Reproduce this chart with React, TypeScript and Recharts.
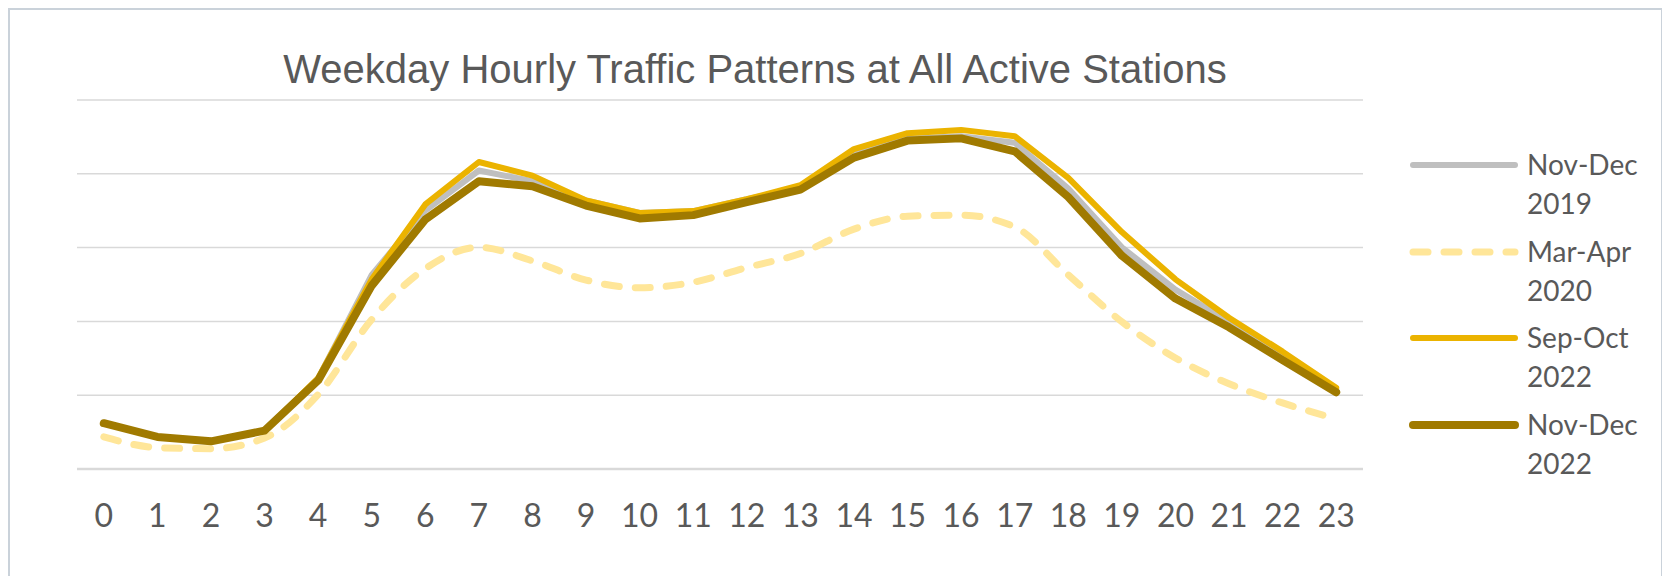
import React from "react";
import { LineChart, Line, XAxis, YAxis, CartesianGrid } from "recharts";

// hours of the weekday
const hours = [
  "0", "1", "2", "3", "4", "5", "6", "7", "8", "9", "10", "11",
  "12", "13", "14", "15", "16", "17", "18", "19", "20", "21", "22", "23",
];

// avg trips per hour (no axis labels in the original)
const novDec2019 = [
  124, 87, 75, 104, 245, 526, 700, 809, 780, 728, 694, 699,
  731, 763, 853, 896, 902, 884, 760, 601, 486, 399, 306, 214,
];
const marApr2020 = [
  87, 58, 55, 84, 202, 405, 543, 601, 564, 512, 491, 506,
  546, 584, 650, 685, 688, 656, 526, 399, 301, 231, 179, 136,
];
const sepOct2022 = [
  124, 87, 75, 104, 246, 514, 717, 832, 795, 728, 694, 699,
  731, 769, 867, 910, 919, 902, 789, 642, 514, 410, 318, 220,
];
const novDec2022 = [
  124, 87, 75, 104, 240, 497, 676, 780, 766, 714, 679, 688,
  723, 757, 844, 890, 896, 861, 737, 578, 462, 384, 295, 208,
];

const yTicks = [0, 200, 400, 600, 800, 1000];

const series = [
  { key: "nd19", name: "Nov-Dec 2019", color: "#BFBFBF", width: 6, dash: undefined, curve: "linear" },
  { key: "ma20", name: "Mar-Apr 2020", color: "#FFE699", width: 7, dash: "15 16", curve: "monotone" },
  { key: "so22", name: "Sep-Oct 2022", color: "#EBB300", width: 6, dash: undefined, curve: "linear" },
  { key: "nd22", name: "Nov-Dec 2022", color: "#A07A00", width: 8, dash: undefined, curve: "linear" },
];

const data = hours.map((h, i) => ({
  hour: h,
  nd19: novDec2019[i],
  ma20: marApr2020[i],
  so22: sepOct2022[i],
  nd22: novDec2022[i],
}));

const textColor = "#595959";

export default function App() {
  return (
    <div
      style={{
        position: "relative",
        width: 1655,
        height: 575,
        border: "2px solid #CAD2DA",
        boxSizing: "border-box",
        background: "#fff",
      }}
    >
      <div
        style={{
          position: "absolute",
          left: 0,
          top: 39,
          width: 1490,
          textAlign: "center",
          fontFamily: "'Liberation Sans', Arial, sans-serif",
          fontSize: 40,
          lineHeight: "40px",
          color: textColor,
        }}
      >
        Weekday Hourly Traffic Patterns at All Active Stations
      </div>

      <LineChart
        width={1651}
        height={571}
        data={data}
        margin={{ top: 90, right: 298, bottom: 32, left: 67 }}
      >
        <CartesianGrid vertical={false} stroke="#D9D9D9" strokeWidth={1.5} />
        <XAxis
          dataKey="hour"
          height={80}
          padding={{ left: 26.8, right: 26.8 }}
          axisLine={{ stroke: "#D9D9D9", strokeWidth: 2.5 }}
          tickLine={false}
          tickSize={0}
          tickMargin={35}
          interval={0}
          tick={{ fill: textColor, fontSize: 32, fontFamily: "Lato, sans-serif" }}
        />
        <YAxis hide domain={[0, 1000]} ticks={yTicks} />
        {series.map((s) => (
          <Line
            key={s.key}
            dataKey={s.key}
            name={s.name}
            type={s.curve as any}
            stroke={s.color}
            strokeWidth={s.width}
            strokeDasharray={s.dash}
            strokeLinecap="round"
            strokeLinejoin="round"
            dot={false}
            activeDot={false}
            isAnimationActive={false}
          />
        ))}
      </LineChart>

      {series.map((s, i) => (
        <div
          key={s.key}
          style={{
            position: "absolute",
            left: 1398,
            top: 135 + i * 86.7,
            display: "flex",
            alignItems: "flex-start",
          }}
        >
          <svg width={112} height={40} style={{ display: "block" }}>
            <line
              x1={5}
              x2={107}
              y1={20}
              y2={20}
              stroke={s.color}
              strokeWidth={s.width}
              strokeDasharray={s.dash ? "15 16" : undefined}
              strokeLinecap="round"
            />
          </svg>
          <div
            style={{
              marginLeft: 7,
              fontFamily: "Lato, sans-serif",
              fontSize: 28,
              lineHeight: "39px",
              color: textColor,
              width: 120,
            }}
          >
            {s.name.split(" ").map((w) => (
              <div key={w}>{w}</div>
            ))}
          </div>
        </div>
      ))}
    </div>
  );
}
